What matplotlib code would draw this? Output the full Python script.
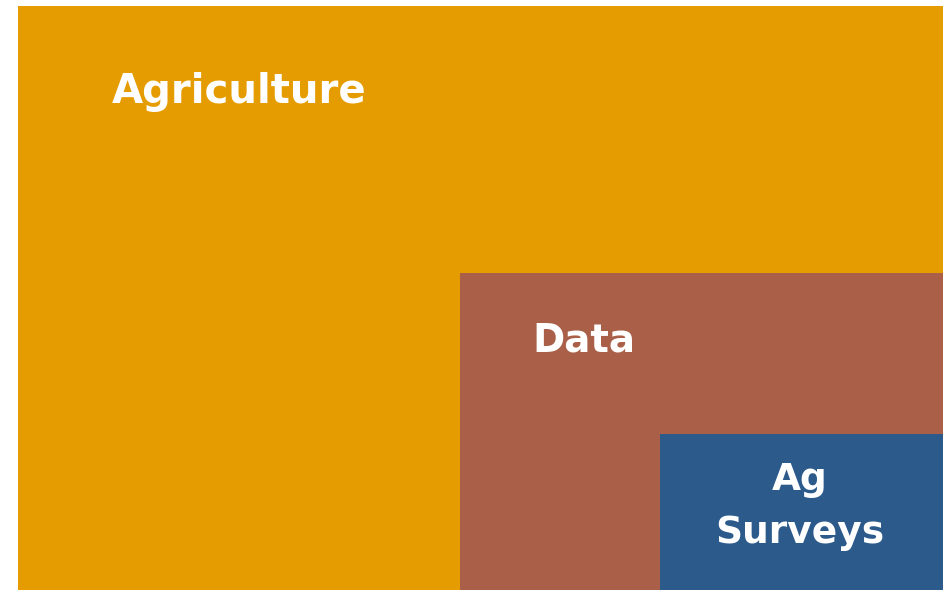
import matplotlib.pyplot as plt
from matplotlib.patches import Rectangle

# nested areas, as share of the full frame (width, height), anchored bottom-right
labels = ['Agriculture', 'Data', 'Ag\nSurveys']
widths = [1.0, 0.522, 0.306]
heights = [1.0, 0.543, 0.267]
colors = ['#E59C00', '#AA6048', '#2B5A8B']

fig = plt.figure(figsize=(9.43, 5.90), dpi=100)
ax = fig.add_axes([18 / 943, 0, 925 / 943, 584 / 590])
ax.set_xlim(0, 1)
ax.set_ylim(0, 1)
ax.axis('off')

for w, h, c in zip(widths, heights, colors):
    ax.add_patch(Rectangle((1 - w, 0), w, h, facecolor=c, edgecolor='none'))

font = dict(color='white', fontweight='bold', family='DejaVu Sans')

# label positions
ax.text(0.101, 1 - 0.148, labels[0], ha='left', va='center', fontsize=29, **font)
ax.text(1 - widths[1] + 0.078, heights[1] - 0.115, labels[1], ha='left', va='center',
        fontsize=28, **font)
ax.text(1 - widths[2] / 2 - 0.002, heights[2] / 2 + 0.01, labels[2], ha='center', va='center',
        fontsize=27, linespacing=1.62, **font)

fig.savefig('out.png', dpi=100)
